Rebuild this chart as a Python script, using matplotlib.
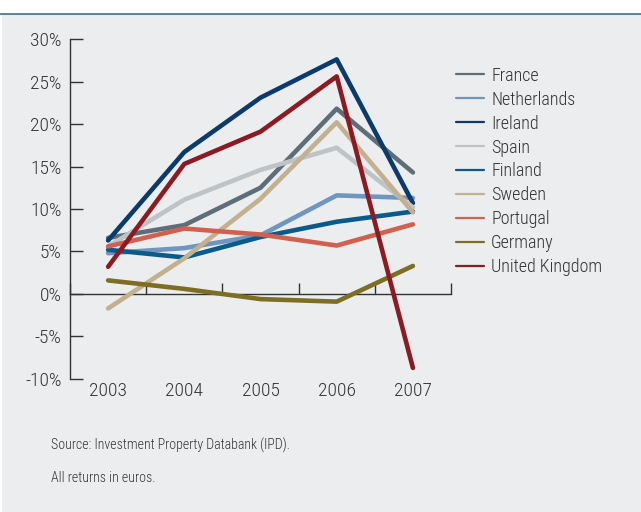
import matplotlib.pyplot as plt
import matplotlib.patches as mpatches
from matplotlib.lines import Line2D

plt.rcParams['font.family'] = ['Roboto Condensed', 'DejaVu Sans']
plt.rcParams['font.stretch'] = 'condensed'
plt.rcParams['font.weight'] = 'light'

# Annual property returns (%), euros
years = ['2003', '2004', '2005', '2006', '2007']
countries = ['France', 'Netherlands', 'Ireland', 'Spain', 'Finland',
             'Sweden', 'Portugal', 'Germany', 'United Kingdom']
france = [6.6, 8.1, 12.5, 21.8, 14.3]
netherlands = [4.8, 5.4, 6.9, 11.6, 11.3]
ireland = [6.3, 16.7, 23.1, 27.6, 10.7]
spain = [5.6, 11.1, 14.6, 17.2, 10.2]
finland = [5.2, 4.3, 6.7, 8.5, 9.7]
sweden = [-1.7, 4.2, 11.2, 20.2, 9.6]
portugal = [5.6, 7.7, 7.0, 5.7, 8.2]
germany = [1.6, 0.6, -0.6, -0.9, 3.3]
uk = [3.2, 15.3, 19.1, 25.6, -8.7]
series = [france, netherlands, ireland, spain, finland, sweden, portugal, germany, uk]
colors = ['#5e6e78', '#6e96be', '#0c3a6b', '#bec3c6', '#0a5a8c',
          '#c2b08f', '#d2604f', '#7d6e24', '#8c1a22']

yticks = [-10, -5, 0, 5, 10, 15, 20, 25, 30]
ylabels = ['%d%%' % v for v in yticks]

bg = '#ecedef'
fig = plt.figure(figsize=(6.41, 5.12), dpi=100)
fig.patch.set_facecolor('white')
fig.patches.append(mpatches.Rectangle((0.003, 0), 0.997, 0.973, transform=fig.transFigure,
                                      facecolor=bg, edgecolor='none', zorder=-2))
fig.lines.append(Line2D([0, 1], [0.9735, 0.9735], transform=fig.transFigure,
                        color='#3a6e98', linewidth=1.2))

ax = fig.add_axes([0.1092, 0.2598, 0.5944, 0.664])
ax.set_facecolor('none')

x = range(len(years))
for name, vals, c in zip(countries, series, colors):
    ax.plot(x, vals, color=c, linewidth=3.3, solid_capstyle='round', label=name)

ax.set_xlim(-0.5, 4.5)
ax.set_ylim(-10, 30)

for s in ['top', 'right', 'bottom']:
    ax.spines[s].set_visible(False)
ax.spines['left'].set_color('#333333')
ax.spines['left'].set_linewidth(1.0)

ax.set_yticks(yticks, labels=ylabels)
ax.tick_params(axis='y', direction='in', length=9, width=1.0, color='#333333',
               labelsize=14, labelcolor='#333333', pad=6)
ax.set_xticks(list(x), labels=years)
ax.tick_params(axis='x', length=0, labelsize=14, labelcolor='#333333', pad=2)

# zero line with category separators
sec = ax.secondary_xaxis(0.25)
sec.set_xticks([-0.5, 0.5, 1.5, 2.5, 3.5, 4.5], labels=[''] * 6)
sec.tick_params(direction='in', length=8, width=1.0, color='#333333')
sec.spines['bottom'].set_color('#333333')
sec.spines['bottom'].set_linewidth(1.0)

leg = ax.legend(loc='upper left', bbox_to_anchor=(0.993, 0.94), frameon=False,
                fontsize=13, handlelength=1.6, handletextpad=0.37,
                labelspacing=0.33, borderaxespad=0)
for h in leg.get_lines():
    h.set_linewidth(1.6)
for t in leg.get_texts():
    t.set_color('#333333')

fig.text(0.08, 0.131, 'Source: Investment Property Databank (IPD).',
         fontsize=10, color='#333333', va='center')
fig.text(0.08, 0.066, 'All returns in euros.',
         fontsize=10, color='#333333', va='center')

fig.savefig('out.png', dpi=100, facecolor=fig.get_facecolor())
